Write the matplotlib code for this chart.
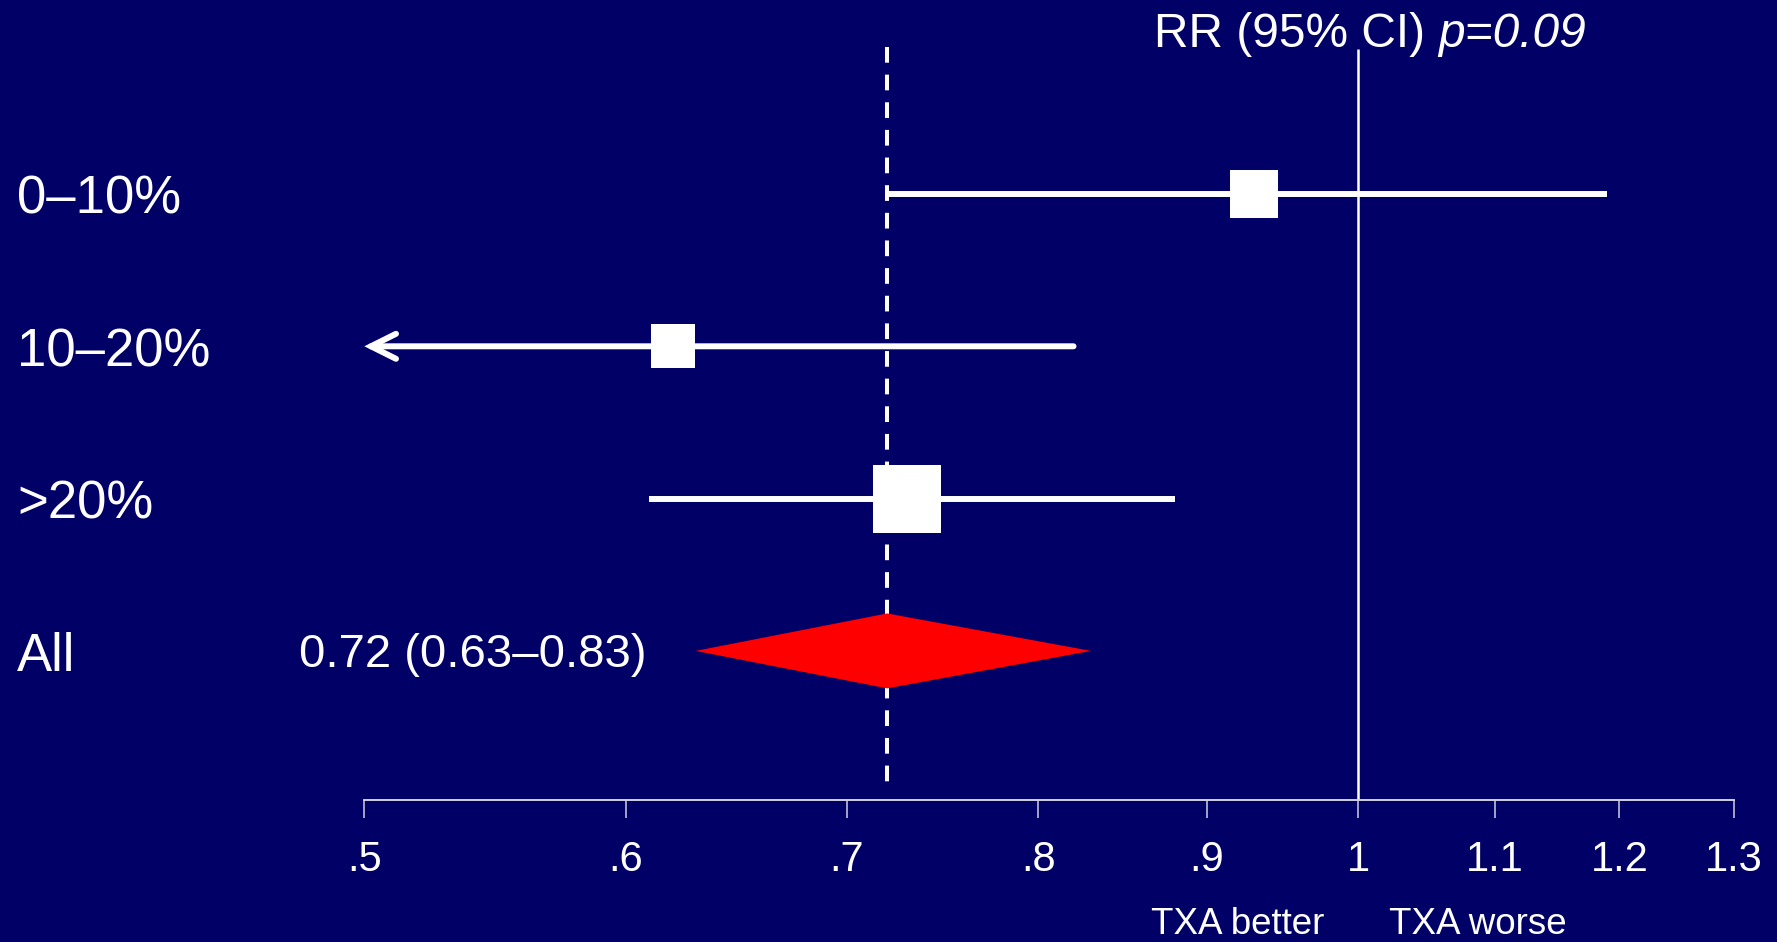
import matplotlib
matplotlib.use("Agg")
import matplotlib.pyplot as plt
from matplotlib.ticker import FixedLocator, FixedFormatter, NullLocator
from matplotlib.patches import FancyArrowPatch, ArrowStyle
import numpy as np

plt.rcParams["font.family"] = ["Liberation Sans", "DejaVu Sans"]
plt.rcParams["lines.scale_dashes"] = False

# ---- data -------------------------------------------------------------
groups = ["0–10%", "10–20%", ">20%"]
rr = [0.93, 0.62, 0.73]
ci_low = [0.72, 0.45, 0.61]
ci_high = [1.19, 0.82, 0.88]

overall_label = "All"
overall_rr = 0.72
overall_low = 0.63
overall_high = 0.83
p_value = "0.09"

tick_values = [0.5, 0.6, 0.7, 0.8, 0.9, 1.0, 1.1, 1.2, 1.3]
tick_labels = [".5", ".6", ".7", ".8", ".9", "1", "1.1", "1.2", "1.3"]

# ---- styling ----------------------------------------------------------
BG = "#000066"
FG = "white"
AXIS_GREY = "#d0d0e0"
box_side_pt = [34.5, 32.0, 49.0]   # square side per subgroup (points)

W, H, DPI = 1777, 942, 100
fig = plt.figure(figsize=(W / DPI, H / DPI), dpi=DPI, facecolor=BG)
ax = fig.add_axes([0, 0, 1, 1])
ax.set_facecolor(BG)

ax.set_xscale("log")
ax.set_xlim(0.3878, 1.3394)
ax.set_ylim(4.9113, -1.2738)      # rows run top to bottom

rows = np.arange(len(groups))
overall_row = len(groups)
axis_y = 3.98
x_min, x_max = tick_values[0], tick_values[-1]

# reference lines
ax.plot([1, 1], [-0.952, axis_y], color=FG, lw=1.8, solid_capstyle="butt", zorder=1)
ax.plot([overall_rr, overall_rr], [-0.967, 3.91], color=FG, lw=2.9,
        dashes=(11.3, 8.6), zorder=1)

# subgroup confidence intervals and point estimates
for y, est, lo, hi, side in zip(rows, rr, ci_low, ci_high, box_side_pt):
    if lo < x_min:
        arrow = FancyArrowPatch(
            (hi, y), (x_min, y),
            arrowstyle=ArrowStyle("->", head_length=18, head_width=9),
            mutation_scale=1, shrinkA=0, shrinkB=0,
            color=FG, lw=4.3, capstyle="round", joinstyle="miter", zorder=3)
        ax.add_patch(arrow)
    else:
        ax.plot([lo, hi], [y, y], color=FG, lw=4.3, solid_capstyle="butt", zorder=3)
    ax.plot(est, y, marker="s", markersize=side, color=FG, mec=FG, mew=0, zorder=4)

# pooled estimate diamond
half_h = 0.246
ax.fill([overall_low, overall_rr, overall_high, overall_rr],
        [overall_row, overall_row - half_h, overall_row, overall_row + half_h],
        color="#ff0000", lw=0, zorder=2)

# x axis
for side in ("top", "left", "right"):
    ax.spines[side].set_visible(False)
ax.spines["bottom"].set_position(("data", axis_y))
ax.spines["bottom"].set_bounds(x_min, x_max)
ax.spines["bottom"].set_color(AXIS_GREY)
ax.spines["bottom"].set_linewidth(1.4)
ax.xaxis.set_major_locator(FixedLocator(tick_values))
ax.xaxis.set_major_formatter(FixedFormatter(tick_labels))
ax.xaxis.set_minor_locator(NullLocator())
ax.tick_params(axis="x", which="major", direction="out", length=13, width=1.1,
               color=AXIS_GREY, labelcolor=FG, labelsize=30, pad=15.5)
ax.set_yticks([])

# row labels
ytr = ax.get_yaxis_transform()
for y, name in zip(list(rows) + [overall_row], groups + [overall_label]):
    ax.text(0.0096, y + 0.13, name, transform=ytr, color=FG, fontsize=38,
            ha="left", va="baseline")

ax.text(0.3638, overall_row + 0.105,
        f"{overall_rr:.2f} ({overall_low:.2f}–{overall_high:.2f})",
        transform=ytr, color=FG, fontsize=34, ha="right", va="baseline")

# header
t1 = fig.text(1154 / W, 1 - 46.7 / H, "RR (95% CI) ", color=FG, fontsize=34.5,
              ha="left", va="baseline")
fig.canvas.draw()
ax.annotate(f"p={p_value}", xy=(1, 0), xycoords=t1, color=FG, fontsize=34.5,
            style="italic", ha="left", va="bottom")

# direction labels under the axis
ax.annotate("TXA better", xy=(1, 0), xycoords=("data", "figure fraction"),
            xytext=(-24, 5.8), textcoords="offset points", color=FG, fontsize=26.5,
            ha="right", va="baseline")
ax.annotate("TXA worse", xy=(1, 0), xycoords=("data", "figure fraction"),
            xytext=(22, 5.8), textcoords="offset points", color=FG, fontsize=26.5,
            ha="left", va="baseline")

fig.savefig("out.png", dpi=DPI, facecolor=BG)
